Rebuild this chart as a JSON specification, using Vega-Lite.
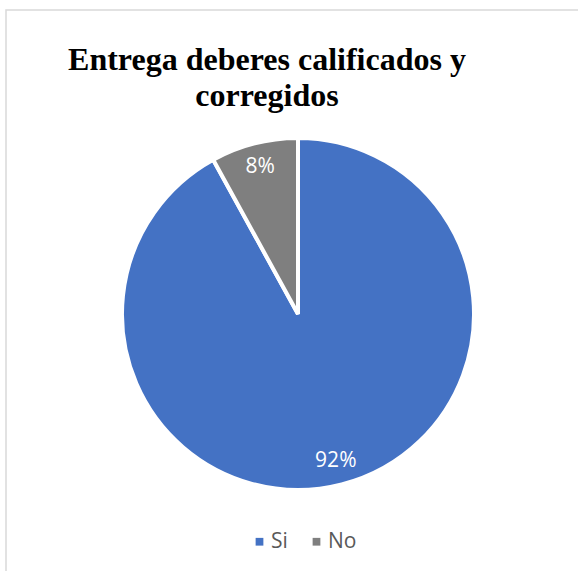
{
  "$schema": "https://vega.github.io/schema/vega-lite/v6.json",
  "autosize": {"type": "none"},
  "padding": {"left": 6, "top": 10, "right": -12, "bottom": -47},
  "width": 584,
  "height": 608,
  "background": "white",
  "view": {"stroke": "#D9D9D9", "strokeWidth": 1.5, "fill": "white"},
  "title": {
    "text": ["Entrega deberes calificados y", "corregidos"],
    "font": "Liberation Serif",
    "fontSize": 32,
    "fontWeight": "bold",
    "color": "#000000",
    "anchor": "middle",
    "frame": "group",
    "align": "center",
    "baseline": "alphabetic",
    "offset": 0,
    "dx": -31,
    "dy": 128,
    "lineHeight": 36
  },
  "data": {
    "values": [
      {"respuesta": "Si", "valor": 92, "etiqueta": "92%", "orden": 1},
      {"respuesta": "No", "valor": 8, "etiqueta": "8%", "orden": 2}
    ]
  },
  "encoding": {
    "theta": {"field": "valor", "type": "quantitative", "stack": true},
    "order": {"field": "orden", "type": "quantitative"}
  },
  "layer": [
    {
      "mark": {"type": "arc", "outerRadius": 176, "stroke": "white", "strokeWidth": 4},
      "encoding": {
        "color": {
          "field": "respuesta",
          "type": "nominal",
          "scale": {"domain": ["Si", "No"], "range": ["#4472C4", "#7F7F7F"]},
          "legend": {
            "title": null,
            "orient": "none",
            "direction": "horizontal",
            "legendX": 243,
            "legendY": 521,
            "symbolType": "square",
            "symbolSize": 60,
            "symbolStrokeWidth": 0,
            "labelFont": "Open Sans",
            "labelFontSize": 21,
            "labelColor": "#595959",
            "labelOffset": 1,
            "columnPadding": 18
          }
        }
      }
    },
    {
      "mark": {"type": "text", "radius": 152, "font": "Open Sans", "fontSize": 21, "color": "white", "align": "center", "baseline": "middle"},
      "encoding": {
        "text": {"field": "etiqueta", "type": "nominal"}
      }
    }
  ]
}
